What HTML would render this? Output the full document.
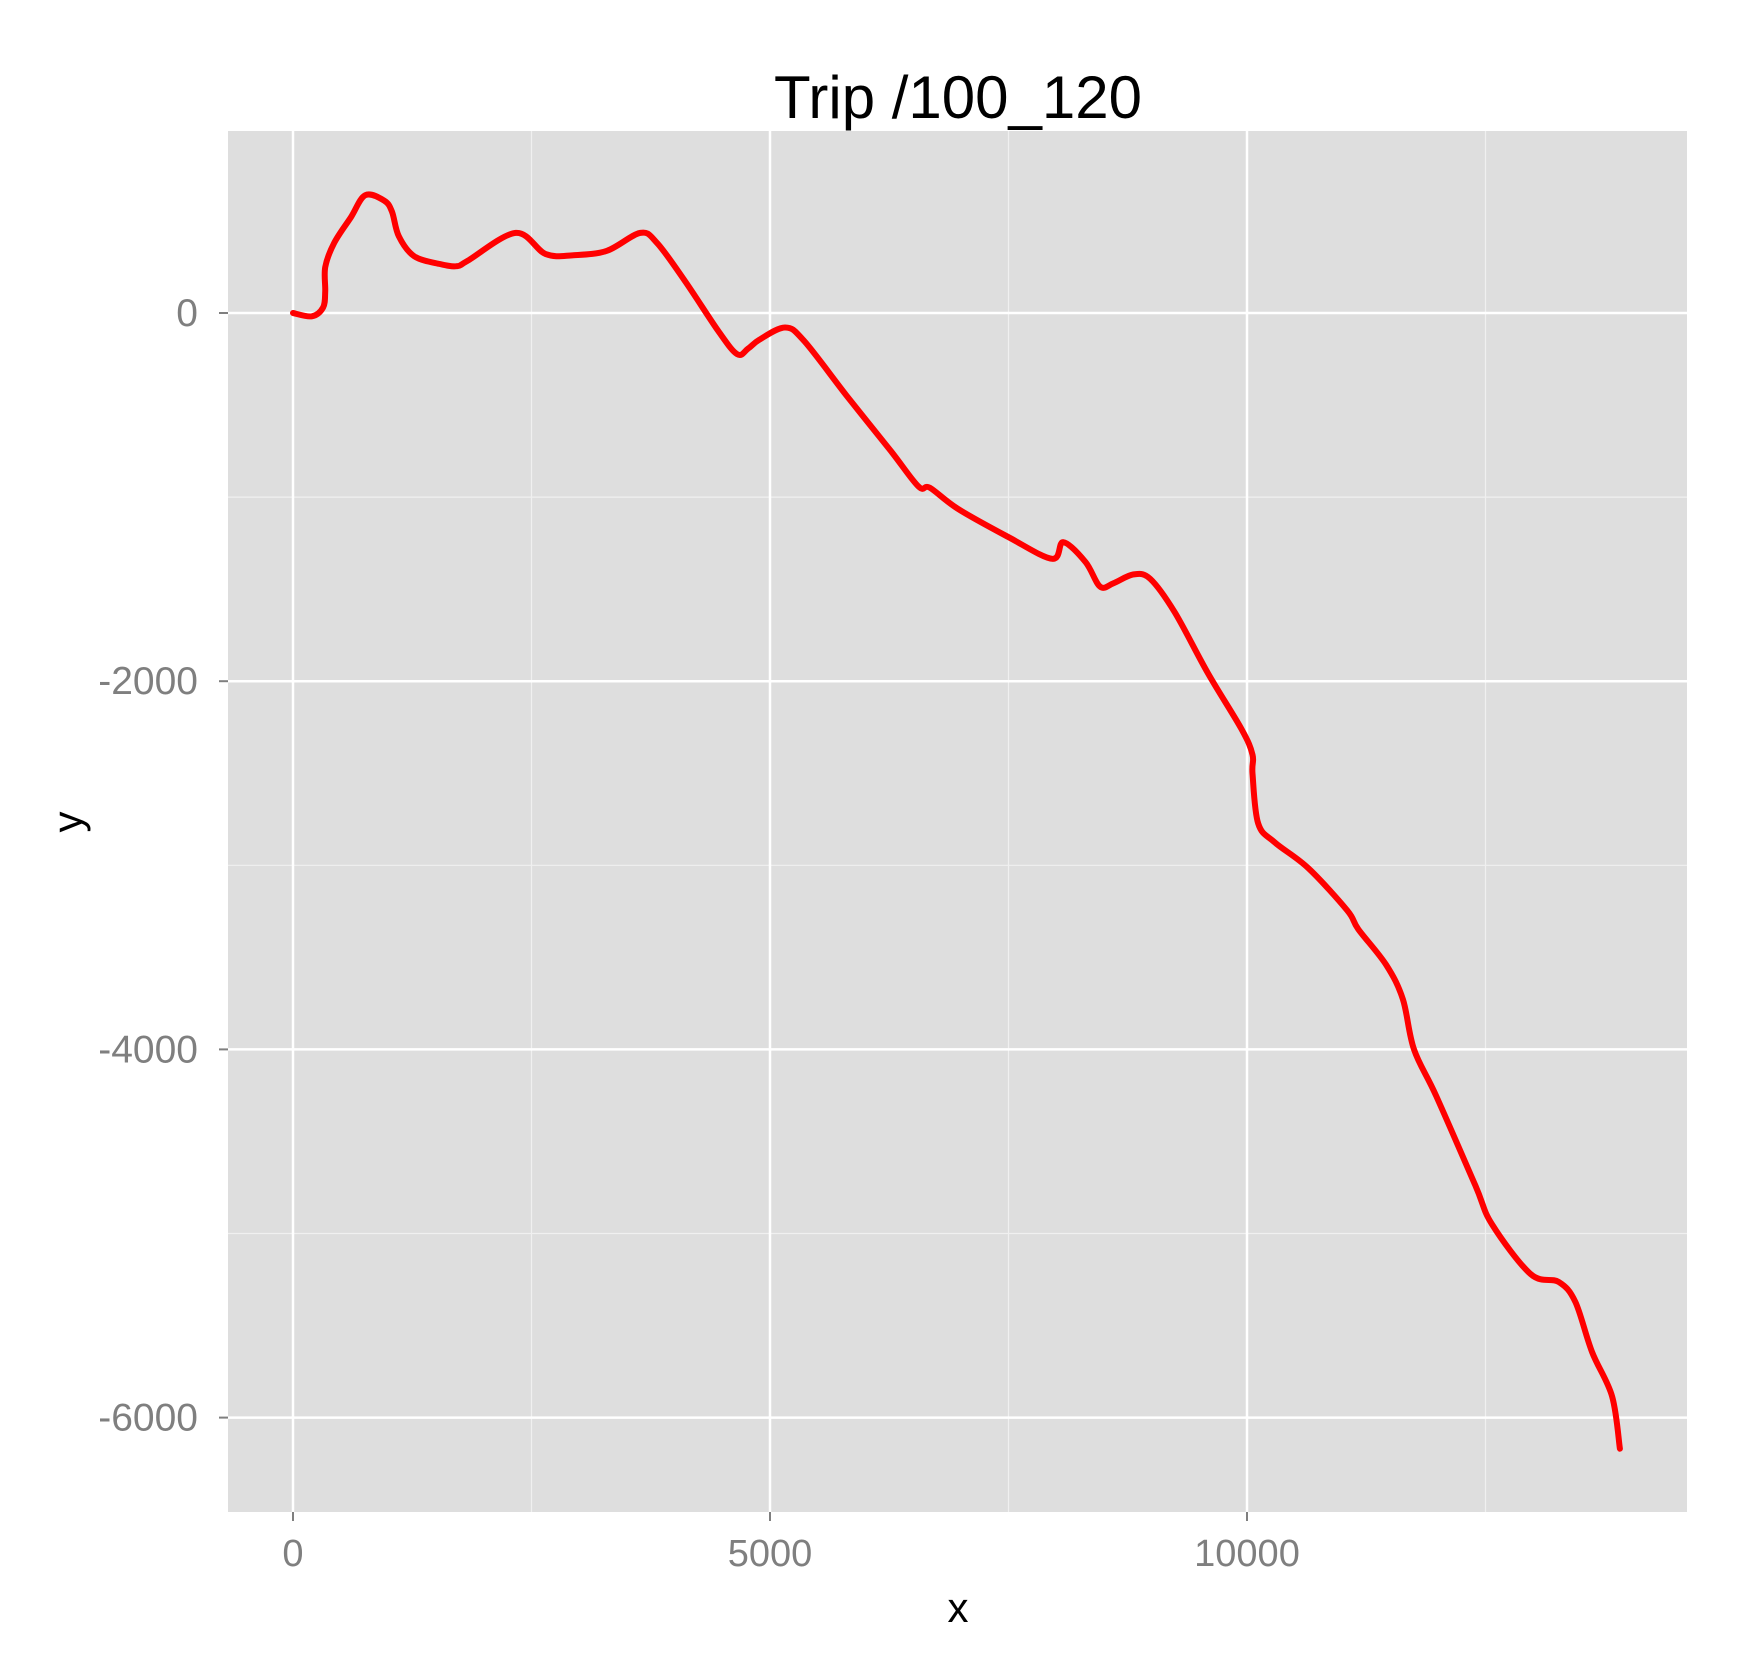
<!DOCTYPE html>
<html><head><meta charset="utf-8"><style>
body{margin:0;background:#fff;}
svg{display:block;font-family:"Liberation Sans",Arial,sans-serif;}
</style></head><body>
<svg id="chart" width="1745" height="1666" viewBox="0 0 1745 1666">
<rect x="0" y="0" width="1745" height="1666" fill="#fff"/>
<g id="panel"></g>
<text x="958" y="118" font-size="60" text-anchor="middle" fill="#000">Trip /100_120</text>
<text x="958" y="1622" font-size="42" text-anchor="middle" fill="#000">x</text>
<text x="82" y="822" font-size="42" text-anchor="middle" fill="#000" transform="rotate(-90 82 822)">y</text>
</svg>
<script>
const xs=[0,198,315,338,338,432,607,758,957,1038,1109,1272,1540,1715,1832,2334,2649,2940,3290,3640,3815,4107,4457,4656,4772,4889,5158,5356,5800,6266,6558,6675,6967,7492,7958,8075,8308,8460,8600,8810,8985,9242,9592,9942,10058,10058,10117,10292,10642,11050,11167,11459,11634,11750,11984,12392,12567,12975,13267,13442,13617,13827,13909];
const ys=[0,-18,30,115,248,381,520,640,610,550,417,308,266,254,284,435,320,314,338,435,381,175,-97,-224,-193,-145,-79,-151,-447,-749,-943,-949,-1063,-1215,-1335,-1245,-1353,-1486,-1468,-1420,-1444,-1625,-1958,-2260,-2399,-2502,-2773,-2876,-3015,-3245,-3347,-3541,-3728,-4000,-4254,-4737,-4949,-5221,-5263,-5372,-5644,-5885,-6169];
const xMajor=[0,5000,10000];
const xMinor=[2500,7500,12500];
const yMajor=[0,-2000,-4000,-6000];
const yMinor=[-1000,-3000,-5000];
const xLabels=["0","5000","10000"];
const yLabels=["0","-2000","-4000","-6000"];

const P={l:228,r:1687,t:131,b:1512};
const sx=v=>293+v*0.0954;
const sy=v=>313-v*0.1841;
const NS="http://www.w3.org/2000/svg";
const svg=document.getElementById('chart');
const g=document.getElementById('panel');
function mk(t,a,parent){const e=document.createElementNS(NS,t);for(const k in a)e.setAttribute(k,a[k]);(parent||g).appendChild(e);return e;}
const bg=mk('rect',{x:P.l,y:P.t,width:P.r-P.l,height:P.b-P.t,fill:'#dedede'});


xMinor.forEach(v=>{const e=mk('line',{x1:sx(v),x2:sx(v),y1:P.t,y2:P.b,stroke:'#f0f0f0','stroke-width':1.2});

});
yMinor.forEach(v=>{const e=mk('line',{x1:P.l,x2:P.r,y1:sy(v),y2:sy(v),stroke:'#f0f0f0','stroke-width':1.2});

});
xMajor.forEach((v,i)=>{const e=mk('line',{x1:sx(v),x2:sx(v),y1:P.t,y2:P.b,stroke:'#fff','stroke-width':2.5});


const t=mk('line',{x1:sx(v),x2:sx(v),y1:P.b,y2:P.b+9,stroke:'#7f7f7f','stroke-width':2},svg);


const l=mk('text',{x:sx(v),y:P.b+54,'font-size':38,'text-anchor':'middle',fill:'#7f7f7f'},svg);l.textContent=xLabels[i];

});
yMajor.forEach((v,i)=>{const e=mk('line',{x1:P.l,x2:P.r,y1:sy(v),y2:sy(v),stroke:'#fff','stroke-width':2.5});


const t=mk('line',{x1:P.l-9,x2:P.l,y1:sy(v),y2:sy(v),stroke:'#7f7f7f','stroke-width':2},svg);


const l=mk('text',{x:P.l-30,y:sy(v)+13,'font-size':39,'text-anchor':'end',fill:'#7f7f7f'},svg);l.textContent=yLabels[i];

});
const pts=xs.map((v,i)=>[sx(v),sy(ys[i])]);
let d='M'+pts[0][0].toFixed(1)+','+pts[0][1].toFixed(1);
for(let i=0;i<pts.length-1;i++){
  const p0=pts[Math.max(i-1,0)],p1=pts[i],p2=pts[i+1],p3=pts[Math.min(i+2,pts.length-1)];
  const c1=[p1[0]+(p2[0]-p0[0])/6,p1[1]+(p2[1]-p0[1])/6];
  const c2=[p2[0]-(p3[0]-p1[0])/6,p2[1]-(p3[1]-p1[1])/6];
  d+=' C'+c1[0].toFixed(1)+','+c1[1].toFixed(1)+' '+c2[0].toFixed(1)+','+c2[1].toFixed(1)+' '+p2[0].toFixed(1)+','+p2[1].toFixed(1);
}
const path=mk('path',{d:d,fill:'none',stroke:'#ff0000','stroke-width':6,'stroke-linejoin':'round','stroke-linecap':'round'});


</script>
</body></html>
